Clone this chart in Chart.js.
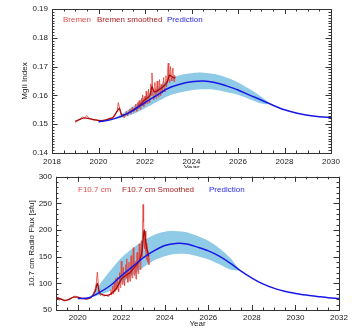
<!DOCTYPE html>
<html>
<head>
<meta charset="utf-8">
<script src="https://cdn.jsdelivr.net/npm/chart.js@4.4.1/dist/chart.umd.min.js"></script>
<style>
  body { margin: 0; background: #fff; }
  #wrapTop { position: absolute; left: 0; top: 0; width: 358px; height: 178px; }
  #wrapBot { position: absolute; left: 0; top: 168px; width: 358px; height: 163px; background: #fff; }
</style>
</head>
<body>
<div id="wrapTop"><canvas id="mgChart"></canvas></div>
<div id="wrapBot"><canvas id="f107Chart"></canvas></div>
<script>
// ===== DADOS: MgII (painel de cima) =====
const mgRawYears = [2019.0, 2019.1, 2019.2, 2019.3, 2019.4, 2019.5, 2019.6, 2019.7, 2019.8, 2019.9,
  2020.0, 2020.1, 2020.2, 2020.3, 2020.4, 2020.5, 2020.6, 2020.7, 2020.8, 2020.85, 2020.9, 2020.95,
  2021.0, 2021.05, 2021.1, 2021.15, 2021.2, 2021.25, 2021.3, 2021.35, 2021.4, 2021.45,
  2021.5, 2021.525, 2021.55, 2021.575, 2021.6, 2021.625, 2021.65, 2021.675, 2021.7, 2021.725,
  2021.75, 2021.775, 2021.8, 2021.825, 2021.85, 2021.875, 2021.9, 2021.925, 2021.95, 2021.975,
  2022.0, 2022.025, 2022.05, 2022.075, 2022.1, 2022.125, 2022.15, 2022.175, 2022.2, 2022.225,
  2022.25, 2022.275, 2022.3, 2022.325, 2022.35, 2022.375, 2022.4, 2022.425, 2022.45, 2022.475,
  2022.5, 2022.525, 2022.55, 2022.575, 2022.6, 2022.625, 2022.65, 2022.675, 2022.7, 2022.725,
  2022.75, 2022.775, 2022.8, 2022.825, 2022.85, 2022.875, 2022.9, 2022.925, 2022.95, 2022.975,
  2023.0, 2023.025, 2023.05, 2023.075, 2023.1, 2023.125, 2023.15, 2023.175, 2023.2, 2023.225,
  2023.25, 2023.275, 2023.3];
const mgRawValues = [0.1505, 0.1512, 0.1518, 0.1525, 0.1522, 0.1530, 0.1520, 0.1517, 0.1514, 0.1516,
  0.1513, 0.1510, 0.1512, 0.1514, 0.1518, 0.1522, 0.1519, 0.1528, 0.1545, 0.1575, 0.1560, 0.1540,
  0.1525, 0.1535, 0.1522, 0.1530, 0.1545, 0.1528, 0.1540, 0.1553, 0.1535, 0.1560,
  0.1542, 0.1556, 0.1548, 0.1562, 0.1570, 0.1550, 0.1545, 0.1566, 0.1575, 0.1555,
  0.1582, 0.1560, 0.1552, 0.1578, 0.1590, 0.1565, 0.1602, 0.1575, 0.1562, 0.1588,
  0.1598, 0.1570, 0.1615, 0.1590, 0.1572, 0.1600, 0.1622, 0.1585, 0.1575, 0.1610,
  0.1640, 0.1600, 0.1678, 0.1625, 0.1598, 0.1585, 0.1612, 0.1645, 0.1608, 0.1590,
  0.1618, 0.1650, 0.1612, 0.1595, 0.1630, 0.1655, 0.1615, 0.1600, 0.1638, 0.1620,
  0.1608, 0.1648, 0.1662, 0.1622, 0.1612, 0.1645, 0.1668, 0.1630, 0.1650, 0.1690,
  0.1712, 0.1665, 0.1645, 0.1680, 0.1700, 0.1660, 0.1650, 0.1685, 0.1695, 0.1655,
  0.1648, 0.1670, 0.1660];

const mgSmoothYears = [2019.0, 2019.2, 2019.4, 2019.6, 2019.8, 2020.0, 2020.2, 2020.4, 2020.6, 2020.8, 2020.9,
  2021.0, 2021.2, 2021.4, 2021.6, 2021.8, 2022.0, 2022.2, 2022.3, 2022.4, 2022.6, 2022.8, 2022.95,
  2023.05, 2023.15, 2023.3];
const mgSmoothValues = [0.1510, 0.1517, 0.1522, 0.1519, 0.1516, 0.1513, 0.1513, 0.1517, 0.1522, 0.1545, 0.1555,
  0.1532, 0.1535, 0.1545, 0.1555, 0.1568, 0.1585, 0.1598, 0.1630, 0.1612, 0.1620, 0.1632, 0.1645,
  0.1670, 0.1665, 0.1660];

const mgPredYears = [2020.0, 2020.5, 2021.0, 2021.5, 2022.0, 2022.5, 2023.0, 2023.5, 2024.0, 2024.5,
  2025.0, 2025.5, 2026.0, 2026.5, 2027.0, 2027.5, 2028.0, 2028.5, 2029.0, 2029.5, 2030.0];
const mgPredValues = [0.1508, 0.1515, 0.1528, 0.1548, 0.1575, 0.1600, 0.1625, 0.1639, 0.1647, 0.1650,
  0.1645, 0.1633, 0.1619, 0.1601, 0.1584, 0.1566, 0.1550, 0.1539, 0.1531, 0.1526, 0.1523];

const mgBandYears = [2020.7, 2021.0, 2021.5, 2022.0, 2022.5, 2023.0, 2023.5, 2024.0, 2024.5,
  2025.0, 2025.5, 2026.0, 2026.5, 2027.0, 2027.3];
const mgBandUpper = [0.1521, 0.1535, 0.1562, 0.1595, 0.1625, 0.1655, 0.1670, 0.1677, 0.1679,
  0.1674, 0.1662, 0.1645, 0.1622, 0.1595, 0.1577];
const mgBandLower = [0.1519, 0.1522, 0.1535, 0.1555, 0.1577, 0.1598, 0.1610, 0.1618, 0.1621,
  0.1620, 0.1612, 0.1602, 0.1587, 0.1572, 0.1569];

const mgXTicks = [2018, 2020, 2022, 2024, 2026, 2028, 2030];
const mgYTicks = [0.14, 0.15, 0.16, 0.17, 0.18, 0.19];

// ===== DADOS: F10.7 (painel de baixo) =====
const fRawYears = [2019.0, 2019.05, 2019.1, 2019.15, 2019.2, 2019.3, 2019.4, 2019.5, 2019.6, 2019.7, 2019.8, 2019.9,
  2020.0, 2020.1, 2020.2, 2020.3, 2020.4, 2020.5, 2020.6, 2020.7, 2020.8, 2020.85, 2020.9, 2020.95,
  2021.0, 2021.05, 2021.1, 2021.2, 2021.3, 2021.4,
  2021.5, 2021.525, 2021.55, 2021.575, 2021.6, 2021.625, 2021.65, 2021.675, 2021.7, 2021.725,
  2021.75, 2021.775, 2021.8, 2021.825, 2021.85, 2021.875, 2021.9, 2021.925, 2021.95, 2021.975,
  2022.0, 2022.025, 2022.05, 2022.075, 2022.1, 2022.125, 2022.15, 2022.175, 2022.2, 2022.225,
  2022.25, 2022.275, 2022.3, 2022.325, 2022.35, 2022.375, 2022.4, 2022.425, 2022.45, 2022.475,
  2022.5, 2022.525, 2022.55, 2022.575, 2022.6, 2022.625, 2022.65, 2022.675, 2022.7, 2022.725,
  2022.75, 2022.775, 2022.8, 2022.825, 2022.85, 2022.875, 2022.9, 2022.925, 2022.95, 2022.975,
  2023.0, 2023.025, 2023.05, 2023.075, 2023.1, 2023.125, 2023.15, 2023.175, 2023.2, 2023.225,
  2023.25, 2023.27];
const fRawValues = [75, 70, 74, 68, 72, 69, 67, 68, 70, 72, 75, 76,
  74, 72, 71, 72, 70, 72, 74, 78, 90, 100, 121, 95,
  82, 77, 80, 76, 78, 75,
  80, 88, 78, 84, 95, 80, 86, 100, 84, 90,
  110, 88, 96, 112, 90, 84, 104, 120, 92, 100,
  142, 118, 98, 110, 130, 104, 96, 118, 135, 110,
  146, 120, 102, 125, 140, 112, 104, 130, 152, 118,
  110, 138, 167, 130, 115, 142, 125, 108, 135, 158,
  128, 118, 150, 174, 140, 126, 155, 180, 150, 200,
  248, 215, 185, 165, 198, 160, 145, 175, 140, 160,
  148, 135];

const fSmoothYears = [2019.0, 2019.2, 2019.4, 2019.6, 2019.8, 2020.0, 2020.2, 2020.4, 2020.6, 2020.8, 2020.9,
  2021.0, 2021.2, 2021.4, 2021.6, 2021.8, 2022.0, 2022.2, 2022.4, 2022.6, 2022.8, 2022.95,
  2023.05, 2023.15, 2023.27];
const fSmoothValues = [73, 71, 68, 70, 74, 74, 72, 71, 73, 85, 100,
  82, 78, 78, 83, 92, 108, 115, 120, 130, 140, 160,
  200, 170, 150];

const fPredYears = [2020.0, 2020.5, 2021.0, 2021.5, 2022.0, 2022.5, 2023.0, 2023.5, 2024.0, 2024.5,
  2025.0, 2025.5, 2026.0, 2026.5, 2027.0, 2027.5, 2028.0, 2028.5, 2029.0, 2029.5,
  2030.0, 2030.5, 2031.0, 2031.5, 2032.0];
const fPredValues = [71.5, 73, 83, 96, 114, 131, 148, 161, 171, 175,
  174, 168, 161, 151, 138, 123, 110, 99, 91, 85,
  81, 78, 75.5, 73, 71.5];

const fBandYears = [2020.6, 2021.0, 2021.5, 2022.0, 2022.5, 2023.0, 2023.5, 2024.0, 2024.5,
  2025.0, 2025.5, 2026.0, 2026.5, 2027.0, 2027.4];
const fBandUpper = [76, 98, 124, 148, 165, 180, 191, 197, 198, 196, 189, 180, 166, 148, 127];
const fBandLower = [74, 78, 86, 100, 115, 130, 143, 151, 155, 155, 151, 145, 136, 126, 124];

const fXTicks = [2020, 2022, 2024, 2026, 2028, 2030, 2032];
const fYTicks = [50, 100, 150, 200, 250, 300];

// ===== cores =====
const RAW_COLOR = 'rgba(226, 70, 62, 0.85)';
const SMOOTH_COLOR = '#a80c0c';
const PRED_COLOR = '#1818e6';
const BAND_COLOR = '#8fcae6';

Chart.defaults.font.family = '"Liberation Sans", Arial, Helvetica, sans-serif';
Chart.defaults.font.size = 8;
Chart.defaults.color = '#222';

const pts = (xs, ys) => xs.map((x, i) => ({ x: x, y: ys[i] }));

// moldura estilo IDL com ticks para dentro nos 4 lados
const framePlugin = {
  id: 'idlFrame',
  afterDatasetsDraw(chart, args, opts) {
    const { ctx, chartArea: a, scales } = chart;
    const sx = scales.x, sy = scales.y;
    ctx.save();
    ctx.strokeStyle = '#333';
    ctx.lineWidth = 1;
    ctx.strokeRect(Math.round(a.left) + 0.5, Math.round(a.top) + 0.5,
      Math.round(a.right - a.left), Math.round(a.bottom - a.top));

    function xTick(v, len) {
      const px = Math.round(sx.getPixelForValue(v)) + 0.5;
      ctx.beginPath();
      ctx.moveTo(px, a.bottom); ctx.lineTo(px, a.bottom - len);
      ctx.moveTo(px, a.top); ctx.lineTo(px, a.top + len);
      ctx.stroke();
    }
    function yTick(v, len) {
      const py = Math.round(sy.getPixelForValue(v)) + 0.5;
      ctx.beginPath();
      ctx.moveTo(a.left, py); ctx.lineTo(a.left + len, py);
      ctx.moveTo(a.right, py); ctx.lineTo(a.right - len, py);
      ctx.stroke();
    }
    let n = Math.round((sx.max - sx.min) / opts.xMinor);
    for (let i = 0; i <= n; i++) xTick(sx.min + i * opts.xMinor, 2.5);
    n = Math.round((sy.max - sy.min) / opts.yMinor);
    for (let i = 0; i <= n; i++) yTick(sy.min + i * opts.yMinor, 2.5);
    sx.ticks.forEach(t => xTick(t.value, 5));
    sy.ticks.forEach(t => yTick(t.value, 5.5));
    ctx.restore();
  }
};

// legenda em texto dentro do gráfico
const textLegend = {
  id: 'textLegend',
  afterDraw(chart, args, opts) {
    const { ctx, chartArea: a } = chart;
    ctx.save();
    ctx.font = '8px "Liberation Sans", Arial, sans-serif';
    ctx.textBaseline = 'middle';
    opts.items.forEach(it => {
      ctx.fillStyle = it.color;
      ctx.fillText(it.text, a.left + it.dx, a.top + opts.dy);
    });
    ctx.restore();
  }
};

function makeChart(canvasId, cfg) {
  return new Chart(document.getElementById(canvasId), {
    type: 'line',
    data: {
      datasets: [
        { label: 'Prediction', data: cfg.pred, borderColor: PRED_COLOR, borderWidth: 1.5,
          pointRadius: 0, tension: 0.3, order: 0, fill: false },
        { label: cfg.smoothLabel, data: cfg.smooth, borderColor: SMOOTH_COLOR, borderWidth: 1.3,
          pointRadius: 0, tension: 0.2, order: 1, fill: false },
        { label: cfg.rawLabel, data: cfg.raw, borderColor: RAW_COLOR, borderWidth: 1,
          pointRadius: 0, tension: 0, order: 2, fill: false },
        { label: 'upper', data: cfg.upper, borderWidth: 0, borderColor: BAND_COLOR,
          backgroundColor: BAND_COLOR, pointRadius: 0, tension: 0.3, order: 3, fill: '+1' },
        { label: 'lower', data: cfg.lower, borderWidth: 0, borderColor: BAND_COLOR,
          pointRadius: 0, tension: 0.3, order: 4, fill: false }
      ]
    },
    options: {
      responsive: true,
      maintainAspectRatio: false,
      animation: false,
      layout: { padding: { left: 0, top: cfg.padTop, right: cfg.padRight, bottom: 0 } },
      plugins: {
        legend: { display: false },
        tooltip: { enabled: false },
        filler: { drawTime: 'beforeDatasetsDraw' },
        idlFrame: { xMinor: cfg.xMinor, yMinor: cfg.yMinor },
        textLegend: { dy: cfg.legendDy, items: cfg.legendItems }
      },
      scales: {
        x: {
          type: 'linear',
          min: cfg.xMin, max: cfg.xMax,
          afterBuildTicks: s => { s.ticks = cfg.xTicks.map(v => ({ value: v })); },
          afterFit: s => { s.height = cfg.xHeight; },
          grid: { display: false, drawTicks: false },
          border: { display: false },
          ticks: { padding: cfg.xPad, maxRotation: 0, autoSkip: false, color: '#222',
            font: { size: 8 }, callback: v => String(v) },
          title: { display: true, text: 'Year', color: '#222', font: { size: 8 },
            padding: { top: 0, bottom: cfg.xTitlePad } }
        },
        y: {
          min: cfg.yMin, max: cfg.yMax,
          afterBuildTicks: s => { s.ticks = cfg.yTicks.map(v => ({ value: v })); },
          afterFit: s => { s.width = cfg.yWidth; },
          grid: { display: false, drawTicks: false },
          border: { display: false },
          ticks: { padding: 4, color: '#222', font: { size: 8 }, callback: cfg.yFmt },
          title: { display: true, text: cfg.yTitle, color: '#222', font: { size: 8 },
            padding: { top: cfg.yTitlePad, bottom: 0 } }
        }
      }
    },
    plugins: [framePlugin, textLegend]
  });
}

makeChart('mgChart', {
  raw: pts(mgRawYears, mgRawValues),
  smooth: pts(mgSmoothYears, mgSmoothValues),
  pred: pts(mgPredYears, mgPredValues),
  upper: pts(mgBandYears, mgBandUpper),
  lower: pts(mgBandYears, mgBandLower),
  rawLabel: 'Bremen', smoothLabel: 'Bremen smoothed',
  xMin: 2018, xMax: 2030, yMin: 0.14, yMax: 0.19,
  xTicks: mgXTicks, yTicks: mgYTicks,
  xMinor: 0.5, yMinor: 0.001,
  padTop: 9, padRight: 27, yWidth: 52, xHeight: 25, xPad: 4, xTitlePad: 5,
  yTitle: 'MgII Index', yTitlePad: 20,
  yFmt: v => v.toFixed(2),
  legendDy: 11,
  legendItems: [
    { text: 'Bremen', color: '#e0504c', dx: 11 },
    { text: 'Bremen smoothed', color: '#b02020', dx: 45 },
    { text: 'Prediction', color: '#2a2ae0', dx: 115 }
  ]
});

makeChart('f107Chart', {
  raw: pts(fRawYears, fRawValues),
  smooth: pts(fSmoothYears, fSmoothValues),
  pred: pts(fPredYears, fPredValues),
  upper: pts(fBandYears, fBandUpper),
  lower: pts(fBandYears, fBandLower),
  rawLabel: 'F10.7 cm', smoothLabel: 'F10.7 cm Smoothed',
  xMin: 2019, xMax: 2032, yMin: 50, yMax: 300,
  xTicks: fXTicks, yTicks: fYTicks,
  xMinor: 0.5, yMinor: 10,
  padTop: 7, padRight: 19, yWidth: 56, xHeight: 21, xPad: 3, xTitlePad: 2,
  yTitle: '10.7 cm Radio Flux [sfu]', yTitlePad: 27,
  yFmt: v => String(v),
  legendDy: 13,
  legendItems: [
    { text: 'F10.7 cm', color: '#e0504c', dx: 22 },
    { text: 'F10.7 cm Smoothed', color: '#b02020', dx: 66 },
    { text: 'Prediction', color: '#2a2ae0', dx: 153 }
  ]
});
</script>
</body>
</html>
